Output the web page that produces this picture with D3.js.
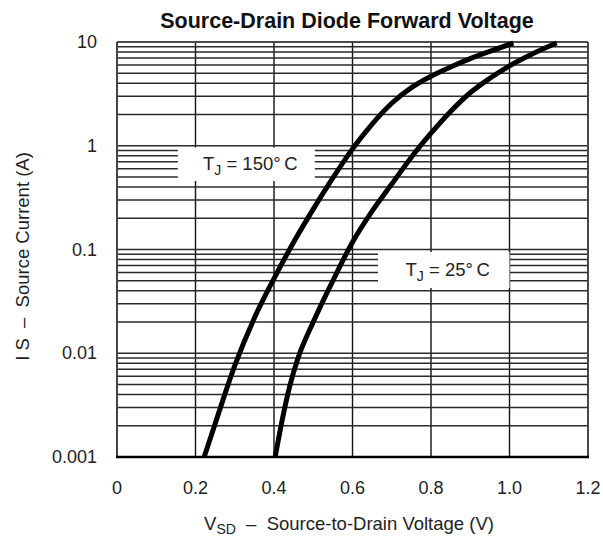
<!DOCTYPE html>
<html>
<head>
<meta charset="utf-8">
<script src="https://cdn.jsdelivr.net/npm/d3@7/dist/d3.min.js"></script>
<style>
  html, body { margin: 0; padding: 0; background: #fff; }
  svg { display: block; font-family: "Liberation Sans", Arial, Helvetica, sans-serif; }
  text { white-space: pre; }
</style>
</head>
<body>
<svg id="chart" width="603" height="539"></svg>
<script>
// ---- data ----
const title = "Source-Drain Diode Forward Voltage";
const xTicks = [0, 0.2, 0.4, 0.6, 0.8, 1.0, 1.2];
const xTickLabels = ["0", "0.2", "0.4", "0.6", "0.8", "1.0", "1.2"];
const yTicks = [0.001, 0.01, 0.1, 1, 10];
const yTickLabels = ["0.001", "0.01", "0.1", "1", "10"];

// T_J = 150 °C  (V_SD in volts, I_S in amperes)
const v150 = [0.222, 0.25, 0.30, 0.35, 0.40, 0.45, 0.50, 0.55, 0.60, 0.65, 0.70, 0.75, 0.80, 0.85, 0.90, 0.95, 1.01];
const i150 = [0.001, 0.00209, 0.00759, 0.0219, 0.0525, 0.1175, 0.245, 0.490, 0.933, 1.62, 2.57, 3.63, 4.68, 5.75, 6.92, 8.13, 9.77];
// T_J = 25 °C
const v25 = [0.403, 0.42, 0.44, 0.46, 0.50, 0.55, 0.60, 0.65, 0.70, 0.75, 0.80, 0.85, 0.90, 0.95, 1.00, 1.05, 1.12];
const i25 = [0.001, 0.00219, 0.00479, 0.00871, 0.0200, 0.0501, 0.1175, 0.234, 0.427, 0.776, 1.32, 2.14, 3.24, 4.47, 5.89, 7.41, 9.77];

const seriesNames = ["150°\u2009C", "25°\u2009C"];

// ---- layout ----
const W = 603, H = 539;
const margin = { left: 117, right: 15, top: 42, bottom: 82 };
const svg = d3.select("#chart");

const x = d3.scaleLinear().domain([0, 1.2]).range([margin.left, W - margin.right]);
const y = d3.scaleLog().domain([0.001, 10]).range([H - margin.bottom, margin.top]);

const textColor = "#222";

// grid: vertical
const grid = svg.append("g");
grid.selectAll("line.vx").data(xTicks).join("line")
  .attr("x1", d => x(d)).attr("x2", d => x(d))
  .attr("y1", y(10)).attr("y2", y(0.001))
  .attr("stroke", "#111").attr("stroke-width", 1.4);

// grid: horizontal (decades and minors)
const minors = [];
for (let e = -3; e < 1; e++) {
  for (let m = 1; m <= 9; m++) minors.push(m * Math.pow(10, e));
}
minors.push(10);
grid.selectAll("line.hy").data(minors).join("line")
  .attr("x1", x(0)).attr("x2", x(1.2))
  .attr("y1", d => y(d)).attr("y2", d => y(d))
  .attr("stroke", "#2a2a2a").attr("stroke-width", 1.4);

// annotation boxes (white, hide grid behind the labels)
const notes = [
  { name: seriesNames[0], v0: 0.155, v1: 0.504, iTop: 0.962, iBot: 0.457 },
  { name: seriesNames[1], v0: 0.665, v1: 1.0, iTop: 0.0945, iBot: 0.0426 }
];
svg.selectAll("rect.note").data(notes).join("rect")
  .attr("x", d => x(d.v0)).attr("width", d => x(d.v1) - x(d.v0))
  .attr("y", d => y(d.iTop)).attr("height", d => y(d.iBot) - y(d.iTop))
  .attr("fill", "#fff");

// frame
svg.append("line").attr("x1", x(0)).attr("x2", x(0)).attr("y1", y(10)).attr("y2", y(0.001))
  .attr("stroke", "#444").attr("stroke-width", 2);
svg.append("line").attr("x1", x(1.2)).attr("x2", x(1.2)).attr("y1", y(10)).attr("y2", y(0.001))
  .attr("stroke", "#444").attr("stroke-width", 1.6);
svg.append("line").attr("x1", x(0)).attr("x2", x(1.2)).attr("y1", y(10)).attr("y2", y(10))
  .attr("stroke", "#444").attr("stroke-width", 1.6);
svg.append("line").attr("x1", x(0) - 1).attr("x2", x(1.2) + 1).attr("y1", y(0.001)).attr("y2", y(0.001))
  .attr("stroke", "#000").attr("stroke-width", 2.5);

// curves
const line = d3.line().x(d => x(d[0])).y(d => y(d[1])).curve(d3.curveMonotoneX);
const curves = [d3.zip(v150, i150), d3.zip(v25, i25)];
svg.selectAll("path.curve").data(curves).join("path")
  .attr("d", line)
  .attr("fill", "none").attr("stroke", "#000").attr("stroke-width", 5)
  .attr("stroke-linecap", "butt").attr("stroke-linejoin", "round");

// annotation labels
notes.forEach(n => {
  const t = svg.append("text")
    .attr("x", (x(n.v0) + x(n.v1)) / 2 + 4)
    .attr("y", (y(n.iTop) + y(n.iBot)) / 2 + 6)
    .attr("text-anchor", "middle")
    .attr("font-size", 18.5).attr("fill", textColor);
  t.append("tspan").text("T");
  t.append("tspan").attr("font-size", 14).attr("dy", 5).text("J");
  t.append("tspan").attr("dy", -5).text(" = " + n.name);
});

// x tick labels
svg.selectAll("text.xt").data(xTicks).join("text")
  .attr("x", d => x(d)).attr("y", H - margin.bottom + 37)
  .attr("text-anchor", "middle").attr("font-size", 18).attr("fill", textColor)
  .text((d, i) => xTickLabels[i]);

// y tick labels
svg.selectAll("text.yt").data(yTicks).join("text")
  .attr("x", margin.left - 20).attr("y", d => y(d) + 6)
  .attr("text-anchor", "end").attr("font-size", 18).attr("fill", textColor)
  .text((d, i) => yTickLabels[i]);

// title
svg.append("text").attr("x", 347).attr("y", 28)
  .attr("text-anchor", "middle").attr("font-size", 21.5).attr("font-weight", "bold")
  .attr("fill", "#111").text(title);

// x axis title
const xt = svg.append("text").attr("x", 349).attr("y", 530)
  .attr("text-anchor", "middle").attr("font-size", 18.5).attr("fill", textColor);
xt.append("tspan").text("V");
xt.append("tspan").attr("font-size", 14).attr("dy", 4).text("SD");
xt.append("tspan").attr("dy", -4).text("\u00a0\u00a0–\u00a0\u00a0Source-to-Drain Voltage (V)");

// y axis title
const yt = svg.append("text")
  .attr("transform", `translate(29, ${(margin.top + H - margin.bottom) / 2 + 7}) rotate(-90)`)
  .attr("text-anchor", "middle").attr("font-size", 18.5).attr("fill", textColor);
yt.append("tspan").text("I\u00a0S\u00a0\u00a0–\u00a0\u00a0Source Current (A)");
</script>
</body>
</html>
